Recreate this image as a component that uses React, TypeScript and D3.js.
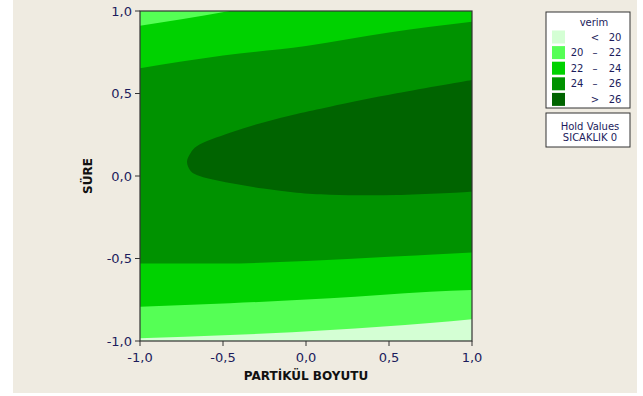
import React from 'react';
import * as d3 from 'd3';

// contour levels of "verim"
const levelColors = ['#d4ffd4', '#55ff55', '#00d200', '#009200', '#006400'];
const levelLabels = [
  ['', '<', '20'],
  ['20', '–', '22'],
  ['22', '–', '24'],
  ['24', '–', '26'],
  ['', '>', '26'],
];
const xTicks = [-1, -0.5, 0, 0.5, 1];
const yTicks = [-1, -0.5, 0, 0.5, 1];
const holdLabels = ['Hold Values', 'SICAKLIK 0'];

// contour lines, [PARTİKÜL BOYUTU, SÜRE]
const top22: [number, number][] = [[-1, 0.91], [-0.75, 0.95], [-0.46, 1.0]];
const top24: [number, number][] = [[-1, 0.653], [-0.5, 0.73], [0, 0.788], [0.5, 0.87], [1, 0.935]];
const ridgeTop: [number, number][] = [
  [-0.695, 0.14], [-0.658, 0.18], [-0.458, 0.262], [-0.257, 0.325],
  [-0.056, 0.376], [0.145, 0.42], [0.546, 0.501], [1, 0.582],
];
const ridgeTip: [number, number] = [-0.717, 0.087];
const ridgeBottom: [number, number][] = [
  [-0.695, 0.03], [-0.658, 0.006], [-0.458, -0.043], [-0.257, -0.076],
  [-0.056, -0.101], [0.145, -0.113], [0.546, -0.115], [1, -0.095],
];
const bot24: [number, number][] = [[-1, -0.53], [-0.5, -0.53], [0, -0.515], [0.5, -0.49], [1, -0.463]];
const bot22: [number, number][] = [[-1, -0.792], [-0.458, -0.771], [0.145, -0.741], [0.747, -0.701], [1, -0.691]];
const bot20: [number, number][] = [[-1, -0.984], [-0.458, -0.964], [0.145, -0.933], [0.747, -0.891], [1, -0.868]];

const W = 643;
const H = 396;
const plot = { left: 140, right: 472, top: 11, bottom: 341 };
const textColor = '#1c1c5c';
const font = 'DejaVu Sans, sans-serif';

const locale = d3.formatLocale({
  decimal: ',',
  thousands: '.',
  grouping: [3],
  currency: ['', ''],
  minus: '-',
});
const fmt = locale.format('.1f');

const App = () => {
  const x = d3.scaleLinear().domain([-1, 1]).range([plot.left, plot.right]);
  const y = d3.scaleLinear().domain([-1, 1]).range([plot.bottom, plot.top]);

  const areaUp = d3
    .area<[number, number]>()
    .x((d) => x(d[0]))
    .y0(y(1))
    .y1((d) => y(d[1]))
    .curve(d3.curveMonotoneX);
  const areaDown = d3
    .area<[number, number]>()
    .x((d) => x(d[0]))
    .y0(y(-1))
    .y1((d) => y(d[1]))
    .curve(d3.curveMonotoneX);
  const ridgeLine = d3
    .line<[number, number]>()
    .x((d) => x(d[0]))
    .y((d) => y(d[1]))
    .curve(d3.curveCatmullRom);
  const ridgePath =
    ridgeLine([...ridgeBottom.slice().reverse(), ridgeTip, ...ridgeTop]) + 'Z';

  const legend = { x: 546, y: 12, w: 84, h: 96 };
  const rowY = (i: number) => 37 + i * 15.6;

  return (
    <svg
      width={W}
      height={H}
      style={{ position: 'absolute', left: 0, top: 0 }}
      fontFamily={font}
    >
      <rect x={0} y={0} width={W} height={H} fill='#ffffff' />
      <rect x={13} y={0} width={624} height={393} fill='#efebe1' />
      <defs>
        <clipPath id='plot-clip'>
          <rect
            x={plot.left}
            y={plot.top}
            width={plot.right - plot.left}
            height={plot.bottom - plot.top}
          />
        </clipPath>
      </defs>
      <g clipPath='url(#plot-clip)'>
        <rect
          x={plot.left}
          y={plot.top}
          width={plot.right - plot.left}
          height={plot.bottom - plot.top}
          fill={levelColors[3]}
        />
        <path d={areaUp(top24) || ''} fill={levelColors[2]} />
        <path d={areaUp(top22) || ''} fill={levelColors[1]} />
        <path d={areaDown(bot24) || ''} fill={levelColors[2]} />
        <path d={areaDown(bot22) || ''} fill={levelColors[1]} />
        <path d={areaDown(bot20) || ''} fill={levelColors[0]} />
        <path d={ridgePath} fill={levelColors[4]} />
      </g>
      <rect
        x={plot.left}
        y={plot.top}
        width={plot.right - plot.left}
        height={plot.bottom - plot.top}
        fill='none'
        stroke='#333333'
        strokeWidth={1.2}
      />
      {xTicks.map((t) => (
        <g key={'x' + t}>
          <line x1={x(t)} x2={x(t)} y1={plot.bottom} y2={plot.bottom + 5} stroke='#333333' />
          <text x={x(t)} y={357} textAnchor='middle' dominantBaseline='central' fontSize={13} fill={textColor}>
            {fmt(t)}
          </text>
        </g>
      ))}
      {yTicks.map((t) => (
        <g key={'y' + t}>
          <line x1={plot.left - 5} x2={plot.left} y1={y(t)} y2={y(t)} stroke='#333333' />
          <text x={132} y={y(t)} textAnchor='end' dominantBaseline='central' fontSize={13} fill={textColor}>
            {fmt(t)}
          </text>
        </g>
      ))}
      <text x={306} y={376} textAnchor='middle' dominantBaseline='central' fontSize={12} fontWeight='bold' fill='#111111'>
        PARTİKÜL BOYUTU
      </text>
      <text
        transform='translate(88,176) rotate(-90)'
        textAnchor='middle'
        dominantBaseline='central'
        fontSize={12}
        fontWeight='bold'
        fill='#111111'
      >
        SÜRE
      </text>

      <rect x={legend.x} y={legend.y} width={legend.w} height={legend.h} fill='#ffffff' stroke='#333333' />
      <text x={594} y={22.5} textAnchor='middle' dominantBaseline='central' fontSize={10} fill={textColor}>
        verim
      </text>
      {levelLabels.map((lab, i) => (
        <g key={'l' + i}>
          <rect x={552} y={rowY(i) - 6.5} width={13} height={13} fill={levelColors[i]} />
          <text x={577} y={rowY(i)} textAnchor='middle' dominantBaseline='central' fontSize={10} fill={textColor}>
            {lab[0]}
          </text>
          <text x={595} y={rowY(i)} textAnchor='middle' dominantBaseline='central' fontSize={10} fill={textColor}>
            {lab[1]}
          </text>
          <text x={615} y={rowY(i)} textAnchor='middle' dominantBaseline='central' fontSize={10} fill={textColor}>
            {lab[2]}
          </text>
        </g>
      ))}
      <rect x={legend.x} y={113} width={legend.w} height={34} fill='#ffffff' stroke='#333333' />
      {holdLabels.map((t, i) => (
        <text key={t} x={590} y={126 + i * 11.5} textAnchor='middle' dominantBaseline='central' fontSize={10} fill={textColor}>
          {t}
        </text>
      ))}
    </svg>
  );
};

export default App;
